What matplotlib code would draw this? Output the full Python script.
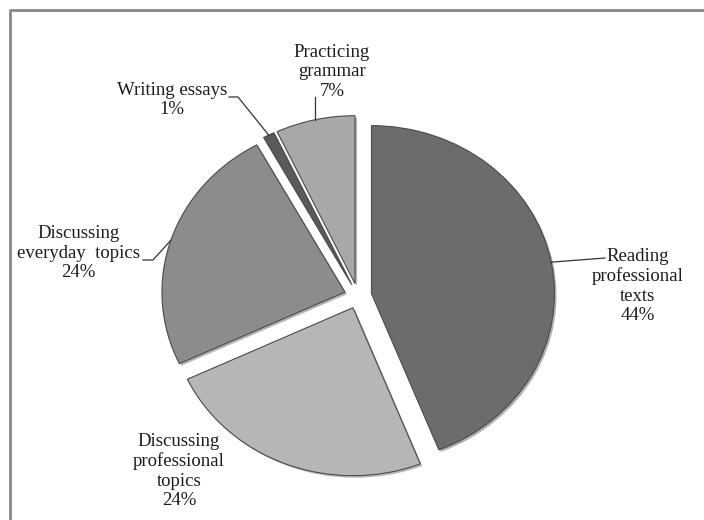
import numpy as np
import matplotlib
matplotlib.use("Agg")
import matplotlib.pyplot as plt
from matplotlib import patheffects as pe
from matplotlib.lines import Line2D

categories = ["Reading\nprofessional\ntexts", "Discussing\nprofessional\ntopics",
              "Discussing\neveryday  topics", "Writing essays", "Practicing\ngrammar"]
values = [44, 24, 24, 1, 7]
colors = ["#6c6c6c", "#b6b6b6", "#8c8c8c", "#5a5a5a", "#a8a8a8"]

W, H = 704, 520
CX, CY, RX, RY = 358, 296, 183, 168   # layout in pixels

def p2d(px, py):
    return ((px - CX) / RX, (CY - py) / RY)

fig = plt.figure(figsize=(W / 100, H / 100), dpi=100)
ax = fig.add_axes([0, 0, 1, 1])
explode = [0.075] * len(values)
wedges, _ = ax.pie(values, startangle=90, counterclock=False, colors=colors,
                   explode=explode, radius=1.0,
                   wedgeprops=dict(edgecolor="#4a4a4a", linewidth=0.8))
for w in wedges:
    w.set_path_effects([pe.SimplePatchShadow(offset=(1.5, -1.5), alpha=0.35),
                        pe.Normal()])
ax.set_aspect("auto")
ax.set_xlim(-CX / RX, (W - CX) / RX)
ax.set_ylim(-(H - CY) / RY, CY / RY)
ax.axis("off")

total = sum(values)
font = dict(family=["Liberation Serif", "DejaVu Serif"], fontsize=13.5,
            color="#1c1c1c", va="center", multialignment="center",
            linespacing=1.18)

# label layout: text anchor px, horizontal alignment, leader path px
layout = {
    0: dict(text=(592, 286), ha="left", path=[(605, 258)]),
    1: dict(text=(179, 471), ha="center", path=None),
    2: dict(text=(140, 253), ha="right", path=[(153, 260), (143, 260)]),
    3: dict(text=(227, 100), ha="right", path=[(238, 97), (229, 97)]),
    4: dict(text=(332, 72), ha="center", path=[None]),
}

for i, w in enumerate(wedges):
    theta = np.deg2rad((w.theta1 + w.theta2) / 2)
    cx, cy = w.center
    ex, ey = cx + np.cos(theta), cy + np.sin(theta)
    lab = f"{categories[i]}\n{values[i] / total * 100:.0f}%"
    tx, ty = p2d(*layout[i]["text"])
    ax.text(tx, ty, lab, ha=layout[i]["ha"], **font)
    path = layout[i]["path"]
    if path is None:
        continue
    pts = [(ex, ey)]
    for p in path:
        if p is None:
            pts.append((ex, p2d(0, 97)[1]))
        else:
            pts.append(p2d(*p))
    xs, ys = zip(*pts)
    ax.add_line(Line2D(xs, ys, color="#333333", linewidth=0.9))

# outer frame (left and top edges visible)
fig.add_artist(Line2D([10 / W, 10 / W, 1.0], [0, 1 - 10 / H, 1 - 10 / H],
                      transform=fig.transFigure, color="#888888", linewidth=2))

fig.savefig("out.png", dpi=100)
